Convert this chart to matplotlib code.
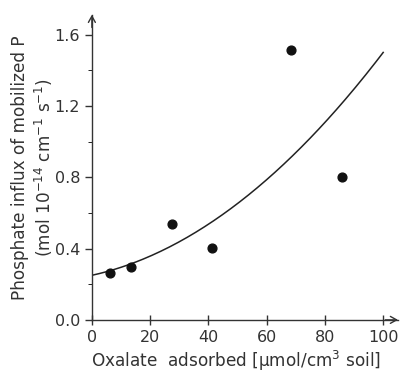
import numpy as np
import matplotlib
matplotlib.use("Agg")
import matplotlib.pyplot as plt

# data
oxalate = [6.2, 13.4, 27.5, 41.3, 68.5, 85.8]
influx = [0.265, 0.295, 0.535, 0.405, 1.515, 0.80]
# fitted curve y = c0 + c1*x + c2*x^2
fit_coef = [0.25, 0.0036, 0.000089]

x_ticks = [0, 20, 40, 60, 80, 100]
y_ticks = [0.0, 0.4, 0.8, 1.2, 1.6]

fig = plt.figure(figsize=(4.03, 3.75), dpi=100)
ax = fig.add_axes([0.228, 0.147, 0.759, 0.813])

xs = np.linspace(0, 100, 200)
ys = fit_coef[0] + fit_coef[1] * xs + fit_coef[2] * xs ** 2
ax.plot(xs, ys, color="#222222", lw=1.1)
ax.scatter(oxalate, influx, s=40, color="#111111", zorder=3)

ax.set_xlim(0, 105)
ax.set_ylim(0, 1.71)
ax.set_xticks(x_ticks)
ax.set_yticks(y_ticks)
ax.set_yticklabels([f"{v:.1f}" for v in y_ticks])
ax.set_yticks([0.2, 0.6, 1.0, 1.4], minor=True)

for s in ["top", "right"]:
    ax.spines[s].set_visible(False)
for s in ["left", "bottom"]:
    ax.spines[s].set_color("#333333")
    ax.spines[s].set_linewidth(1.0)

ax.tick_params(axis="both", labelsize=11.5, colors="#333333", length=5, width=1.0)
ax.tick_params(axis="y", which="minor", length=3)
ax.tick_params(axis="x", direction="inout", length=7)

# arrow heads on the axes
arrow = dict(arrowstyle="->,head_length=0.45,head_width=0.25", color="#333333", lw=1.0)
ax.annotate("", xy=(0, 1.01), xytext=(0, 0.95), xycoords="axes fraction",
            arrowprops=arrow)
ax.annotate("", xy=(1.01, 0), xytext=(0.95, 0), xycoords="axes fraction",
            arrowprops=arrow)

ax.set_xlabel("Oxalate  adsorbed [μmol/cm$^3$ soil]", fontsize=12.2,
              color="#333333", labelpad=5)
ax.xaxis.set_label_coords(0.47, -0.095)
ax.set_ylabel("Phosphate influx of mobilized P\n(mol 10$^{-14}$ cm$^{-1}$ s$^{-1}$)",
              fontsize=12.2, color="#333333", labelpad=-0.5, linespacing=1.25)

fig.savefig("out.png", dpi=100)
